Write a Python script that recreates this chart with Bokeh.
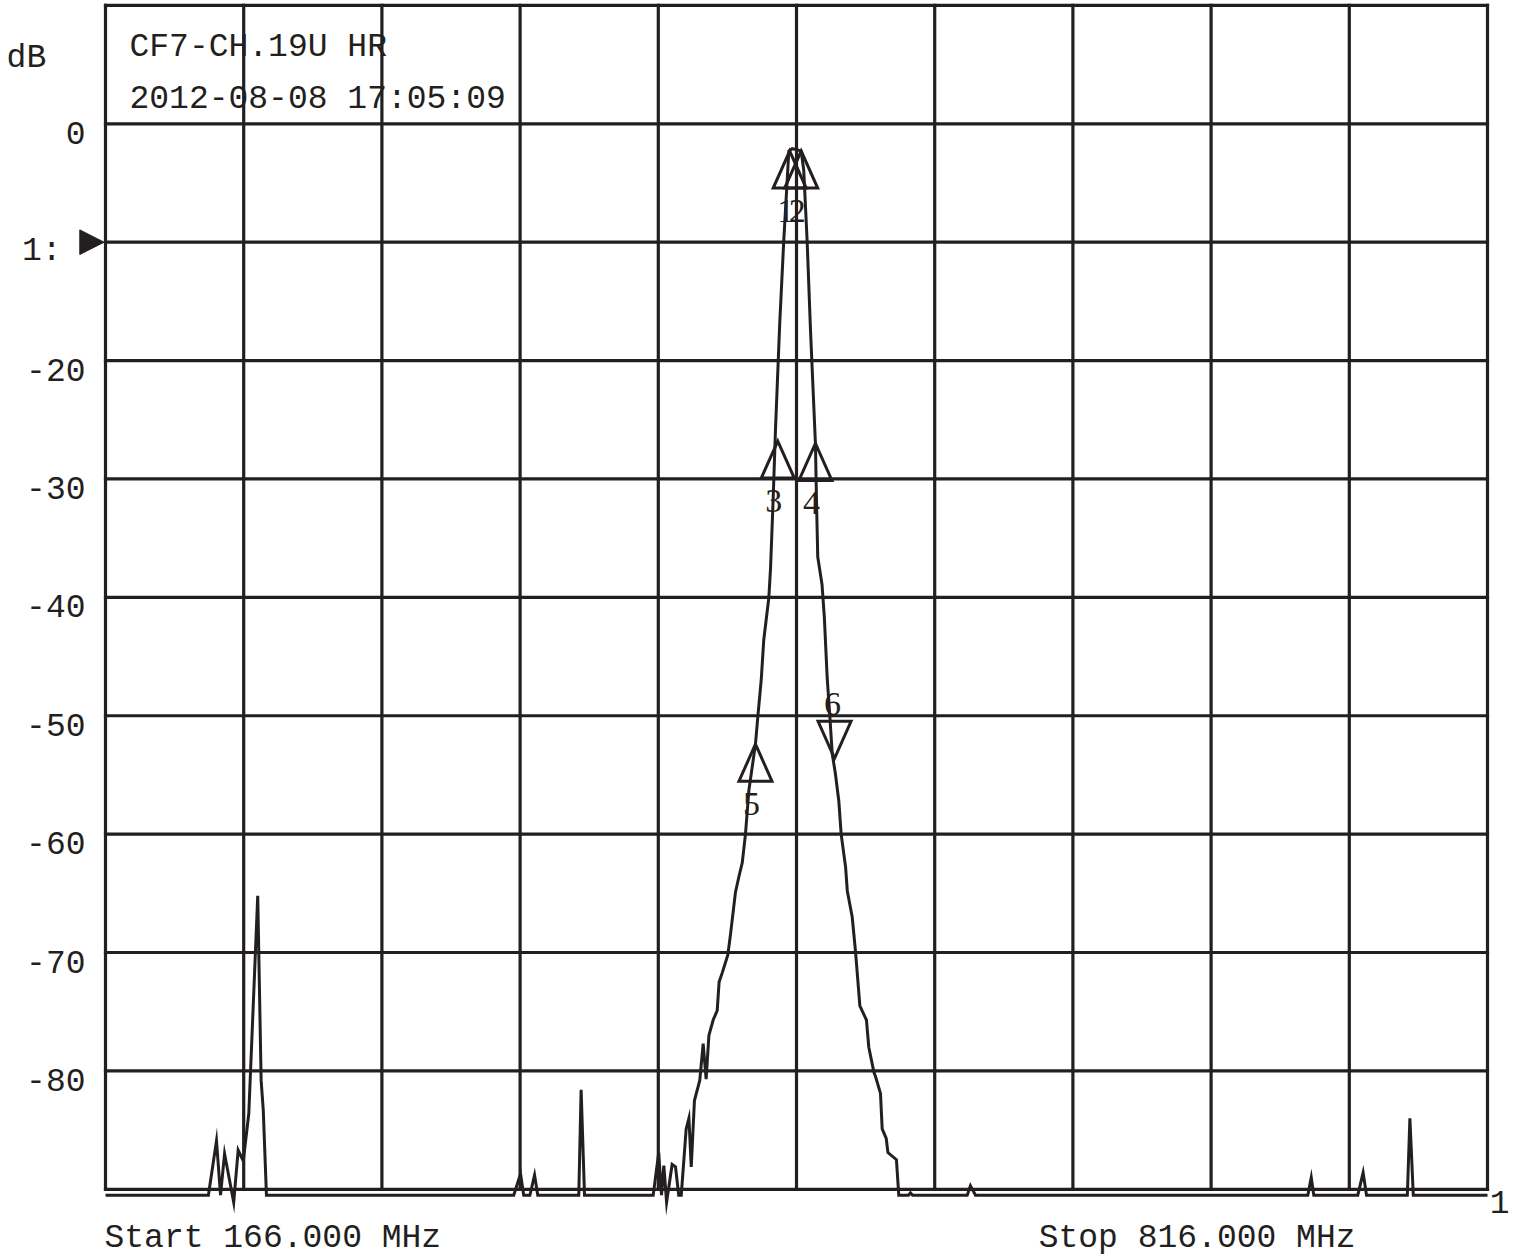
from bokeh.plotting import figure
from bokeh.models import Range1d
from bokeh.core.properties import value
from bokeh.embed import file_html
from bokeh.resources import INLINE

# ---------------- data ----------------
FREQ_START_MHZ = 166.0
FREQ_STOP_MHZ = 816.0
FREQ_DIVS = 10
DB_TOP = 10.0
DB_BOTTOM = -90.0
DB_PER_DIV = 10.0

Y_TICK_DB = [0, -20, -30, -40, -50, -60, -70, -80]
Y_TICK_LABELS = ["0", "-20", "-30", "-40", "-50", "-60", "-70", "-80"]
REF_LEVEL_DB = -10
REF_LEVEL_LABEL = "1:"
UNIT_LABEL = "dB"
HEADER_LINES = ["CF7-CH.19U HR", "2012-08-08 17:05:09"]
START_LABEL = "Start 166.000 MHz"
STOP_LABEL = "Stop 816.000 MHz"
TRACE_LABEL = "1"

TRACE_MHZ = [166.0, 214.4, 218.2, 220.1, 222.0, 226.3, 228.4, 230.8, 233.4, 237.6,
             239.2, 240.2, 241.7, 358.0, 361.2, 362.7, 365.6, 367.8, 369.3, 388.6,
             389.7, 391.3, 423.6, 426.2, 427.5, 428.6, 429.9, 432.5, 434.1, 435.6,
             436.8, 439.1, 440.4, 441.5, 443.0, 445.5, 447.1, 448.5, 449.8, 451.8,
             453.7, 454.6, 456.1, 458.7, 460.0, 462.3, 463.9, 465.5, 467.0, 468.6,
             471.7, 472.8, 474.4, 475.6, 478.0, 478.8, 480.0, 481.1, 483.1, 485.0,
             487.4, 489.0, 491.5, 493.2, 494.4, 496.0, 497.6, 499.9, 500.4, 501.0,
             503.0, 504.1, 505.4, 506.7, 507.8, 509.3, 510.9, 512.0, 514.1, 514.9,
             517.2, 518.8, 520.8, 523.9, 525.0, 527.4, 528.2, 530.5, 531.3, 533.2,
             534.0, 538.0, 539.1, 543.7, 544.6, 545.6, 571.3, 572.8, 575.2, 731.5,
             733.1, 734.3, 755.0, 757.5, 759.1, 778.3, 779.5, 781.1, 816.0]
TRACE_DB = [-90.5, -90.5, -85.9, -90.5, -87.0, -91.1, -86.7, -87.6, -83.6, -65.2,
            -80.8, -83.3, -90.5, -90.5, -88.7, -90.5, -90.5, -88.8, -90.5, -90.5,
            -81.6, -90.5, -90.5, -86.9, -90.5, -88.0, -91.1, -87.9, -88.1, -90.5,
            -90.5, -84.9, -84.0, -88.1, -82.5, -80.8, -77.7, -80.7, -77.0, -75.7,
            -74.9, -72.5, -71.7, -70.2, -68.4, -64.9, -63.6, -62.4, -60.0, -56.3,
            -52.4, -50.1, -47.0, -43.6, -40.0, -37.5, -31.8, -25.9, -16.9, -9.9,
            -2.3, -2.1, -2.2, -2.3, -3.9, -9.9, -17.5, -27.0, -31.8, -36.6,
            -38.9, -41.7, -46.7, -50.1, -53.2, -54.9, -57.2, -60.0, -62.8, -64.8,
            -67.0, -70.0, -74.5, -75.7, -78.0, -80.1, -80.5, -81.9, -84.9, -85.7,
            -86.9, -87.5, -90.5, -90.5, -90.3, -90.5, -90.5, -89.7, -90.5, -90.5,
            -89.0, -90.5, -90.5, -88.6, -90.5, -90.5, -84.0, -90.5, -90.5]

MARKER_LABELS = ["1", "2", "3", "4", "5", "6"]
MARKER_MHZ = [487.8, 493.2, 482.2, 499.9, 471.7, 508.9]
MARKER_DB = [-2.3, -2.3, -26.8, -27.0, -52.4, -53.6]
MARKER_POINTS_DOWN = [False, False, False, False, False, True]

# ---------------- layout ----------------
INK = "#231f20"
MONO = value("Liberation Mono")
SERIF = value("Liberation Serif")
MONO_SIZE = "33px"
SERIF_SIZE = "34px"
W, H = 1509, 1258
X0_PX = 105.0     # canvas x of start frequency
X1_PX = 1487.0    # canvas x of stop frequency
Y0_PX = 123.3     # canvas y of 0 dB
YB_PX = 1188.8    # canvas y of bottom graticule line
MONO_LIFT = 9.0   # baseline correction (px)
SERIF_LIFT = 11.0

PX_PER_MHZ = (X1_PX - X0_PX) / (FREQ_STOP_MHZ - FREQ_START_MHZ)
PX_PER_DB = (YB_PX - Y0_PX) / (0.0 - DB_BOTTOM)

x_start = FREQ_START_MHZ - X0_PX / PX_PER_MHZ
x_end = FREQ_START_MHZ + (W - X0_PX) / PX_PER_MHZ
y_end = Y0_PX / PX_PER_DB
y_start = -(H - Y0_PX) / PX_PER_DB


def dx(px):
    return px / PX_PER_MHZ


def dy(px):
    return px / PX_PER_DB


p = figure(width=W, height=H, x_range=Range1d(x_start, x_end), y_range=Range1d(y_start, y_end),
           output_backend="svg", toolbar_location=None, min_border=0,
           x_axis_location=None, y_axis_location=None)
p.outline_line_color = None
p.grid.visible = False
p.background_fill_color = "white"
p.border_fill_color = "white"

GRID_W = 3.2
half = GRID_W / 2
# graticule
freq_lines = [FREQ_START_MHZ + k * (FREQ_STOP_MHZ - FREQ_START_MHZ) / FREQ_DIVS for k in range(FREQ_DIVS + 1)]
n_h = int(round((DB_TOP - DB_BOTTOM) / DB_PER_DIV)) + 1
db_lines = [DB_BOTTOM + k * DB_PER_DIV for k in range(n_h)]
top_drawn = min(DB_TOP, y_end - dy(half))
db_lines = [min(v, top_drawn) for v in db_lines]
p.segment(x0=[FREQ_START_MHZ - dx(half)] * len(db_lines), x1=[FREQ_STOP_MHZ + dx(half)] * len(db_lines),
          y0=db_lines, y1=db_lines, line_color=INK, line_width=GRID_W)
p.segment(x0=freq_lines, x1=freq_lines, y0=[DB_BOTTOM - dy(half)] * len(freq_lines),
          y1=[top_drawn + dy(half)] * len(freq_lines), line_color=INK, line_width=GRID_W)

# trace
p.line(TRACE_MHZ, TRACE_DB, line_color=INK, line_width=3.0, line_join="miter")

# markers
TRI_HALF_W = 16.5
TRI_H = 37.0
mx, my, lx, ly = [], [], [], []
for f, d, down in zip(MARKER_MHZ, MARKER_DB, MARKER_POINTS_DOWN):
    s = 1.0 if down else -1.0
    mx.append([f - dx(TRI_HALF_W), f + dx(TRI_HALF_W), f])
    my.append([d + s * dy(TRI_H), d + s * dy(TRI_H), d])
    if down:
        lx.append(f - dx(2))
        ly.append(d + dy(43 + SERIF_LIFT))
    else:
        lx.append(f - dx(4))
        ly.append(d - dy(71 - SERIF_LIFT))
p.patches(mx, my, fill_color=None, line_color=INK, line_width=3.0, line_join="miter")
p.text(x=lx, y=ly, text=MARKER_LABELS, text_font=SERIF, text_font_size=SERIF_SIZE,
       text_align="center", text_baseline="alphabetic", text_color=INK)

# reference level arrow and label
p.patch([FREQ_START_MHZ - dx(25.7), FREQ_START_MHZ - dx(1.4), FREQ_START_MHZ - dx(25.7)],
        [REF_LEVEL_DB + dy(12.3), REF_LEVEL_DB, REF_LEVEL_DB - dy(12.3)],
        fill_color=INK, line_color=INK, line_width=1)
p.text(x=[FREQ_START_MHZ - dx(83.5)], y=[REF_LEVEL_DB - dy(18 - MONO_LIFT)], text=[REF_LEVEL_LABEL],
       text_font=MONO, text_font_size=MONO_SIZE, text_align="left", text_baseline="alphabetic",
       text_color=INK)

# tick labels
p.text(x=[FREQ_START_MHZ - dx(20)] * len(Y_TICK_DB), y=[t - dy(18 - MONO_LIFT) for t in Y_TICK_DB],
       text=Y_TICK_LABELS, text_font=MONO, text_font_size=MONO_SIZE, text_align="right",
       text_baseline="alphabetic", text_color=INK)

# unit
p.text(x=[FREQ_START_MHZ - dx(79.1)], y=[dy(56.6 + MONO_LIFT)], text=[UNIT_LABEL], text_font=MONO,
       text_font_size=MONO_SIZE, text_align="center", text_baseline="alphabetic", text_color=INK)

# header lines
p.text(x=[FREQ_START_MHZ + dx(24)] * 2, y=[dy(67.3 + MONO_LIFT), dy(15.0 + MONO_LIFT)], text=HEADER_LINES,
       text_font=MONO, text_font_size=MONO_SIZE, text_align="left", text_baseline="alphabetic",
       text_color=INK)

# start / stop
p.text(x=[FREQ_START_MHZ - dx(1)], y=[DB_BOTTOM - dy(57.9 - MONO_LIFT)], text=[START_LABEL], text_font=MONO,
       text_font_size=MONO_SIZE, text_align="left", text_baseline="alphabetic", text_color=INK)
p.text(x=[FREQ_STOP_MHZ - dx(132)], y=[DB_BOTTOM - dy(57.9 - MONO_LIFT)], text=[STOP_LABEL], text_font=MONO,
       text_font_size=MONO_SIZE, text_align="right", text_baseline="alphabetic", text_color=INK)

# trace number
p.text(x=[FREQ_STOP_MHZ + dx(12.2)], y=[DB_BOTTOM - dy(21.2 - MONO_LIFT)], text=[TRACE_LABEL], text_font=MONO,
       text_font_size=MONO_SIZE, text_align="center", text_baseline="alphabetic", text_color=INK)

open("out.html", "w").write(file_html(p, INLINE))
